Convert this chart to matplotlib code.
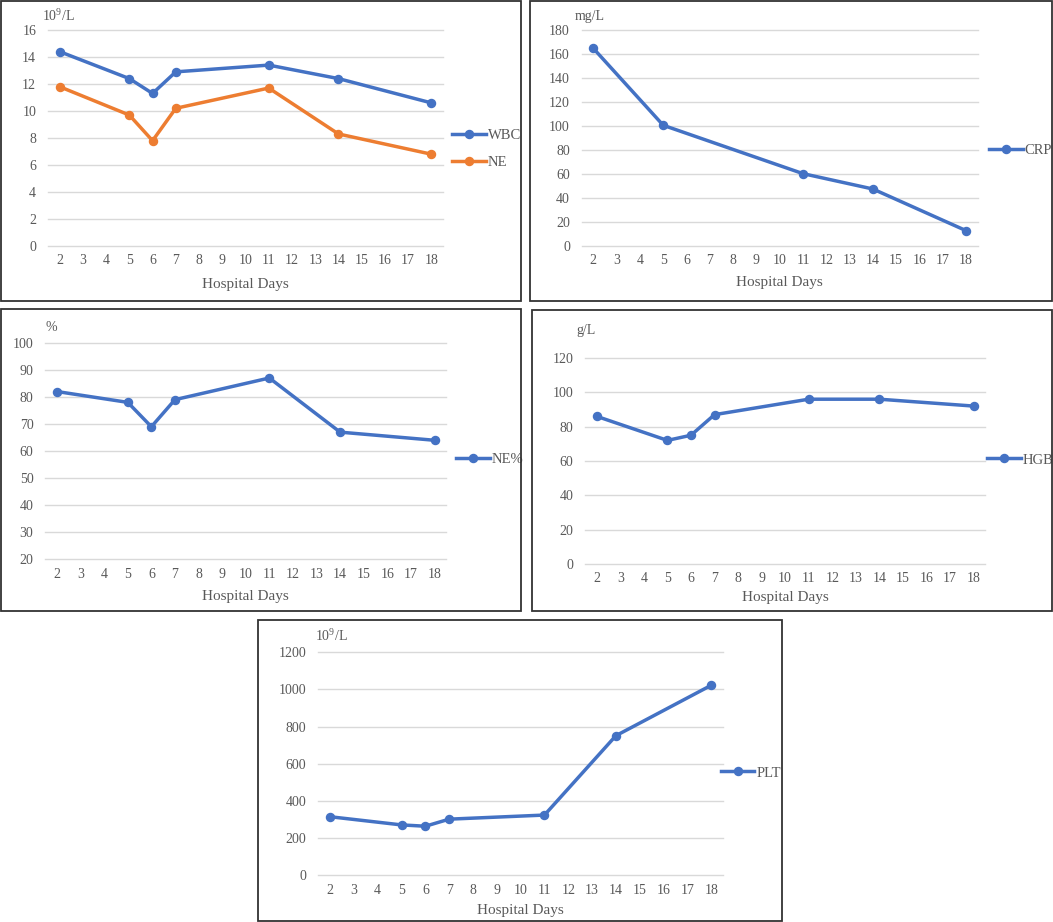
import matplotlib
matplotlib.use("Agg")
import matplotlib.pyplot as plt
from matplotlib.patches import Rectangle

plt.rcParams['font.family'] = ['Liberation Serif', 'DejaVu Serif']
plt.rcParams['mathtext.fontset'] = 'custom'
plt.rcParams['mathtext.rm'] = 'Liberation Serif'
plt.rcParams['mathtext.it'] = 'Liberation Serif:italic'

# ---- data ----
days_axis = list(range(2, 19))
days = [2, 5, 6, 7, 11, 14, 18]
wbc = [14.4, 12.4, 11.3, 12.9, 13.4, 12.4, 10.6]
ne = [11.8, 9.7, 7.8, 10.2, 11.7, 8.3, 6.8]
crp = [164.7, 100.6, 60.3, 47.5, 12.8]
crp_days = [2, 5, 11, 14, 18]
ne_pct = [82, 78, 69, 79, 87, 67, 64]
hgb = [86, 72, 75, 87, 96, 96, 92]
plt_vals = [315, 271, 264, 302, 324, 751, 1022]

BLUE = '#4472C4'
ORANGE = '#ED7D31'
TXT = '#595959'
GRID = '#D9D9D9'

W, H = 1053, 922
fig = plt.figure(figsize=(W / 100, H / 100), dpi=100)


def box(x0, y0, x1, y1):
    fig.patches.append(Rectangle((x0 / W, 1 - y1 / H), (x1 - x0) / W, (y1 - y0) / H,
                                 transform=fig.transFigure, fill=False,
                                 edgecolor='#333333', lw=1.3))


def make_ax(x0, x1, ytop, ybot, ylim, yticks):
    ax = fig.add_axes([x0 / W, 1 - ybot / H, (x1 - x0) / W, (ybot - ytop) / H])
    ax.set_xlim(1.5, 18.5)
    ax.set_ylim(*ylim)
    ax.set_xticks(days_axis)
    ax.set_xticklabels([str(d) for d in days_axis])
    ax.set_yticks(yticks)
    ax.set_yticklabels([str(v) for v in yticks])
    for s in ax.spines.values():
        s.set_visible(False)
    ax.grid(axis='y', color=GRID, lw=1.0)
    for gl in ax.get_ygridlines():
        gl.set_clip_on(False)
    ax.set_axisbelow(True)
    ax.tick_params(axis='both', length=0, labelsize=10, labelcolor=TXT)
    ax.tick_params(axis='x', pad=6)
    ax.tick_params(axis='y', pad=8.5)
    ax.set_facecolor('none')
    return ax


def xlabel(ax, y):
    bb = ax.get_position()
    fig.text((bb.x0 + bb.x1) / 2, 1 - y / H, 'Hospital Days', ha='center', va='center',
             fontsize=11, color=TXT)


def unit(x, y, s):
    fig.text(x / W, 1 - y / H, s, ha='left', va='center', fontsize=10, color=TXT)


def legend(ax, x, y, **kw):
    ax.legend(loc='center left', bbox_to_anchor=(x / W, 1 - y / H),
              bbox_transform=fig.transFigure, frameon=False, borderpad=0,
              borderaxespad=0, handlelength=2.3, handletextpad=0.15,
              fontsize=10.5, labelcolor=TXT, **kw)


line_kw = dict(lw=2.5, marker='o', markersize=5.8)

# Panel 1: WBC / NE
box(1, 1, 521, 301)
ax1 = make_ax(48, 443, 30, 246, (0, 16), list(range(0, 17, 2)))
ax1.plot(days, wbc, color=BLUE, label='WBC', **line_kw)
ax1.plot(days, ne, color=ORANGE, label='NE', **line_kw)
legend(ax1, 452, 148.7, labelspacing=0.95)
xlabel(ax1, 284.5)
unit(41.7, 15.7, '10$^{\\mathrm{9}}$/L')

# Panel 2: CRP
box(530, 1, 1052, 301)
ax2 = make_ax(581.7, 977.7, 30, 246, (0, 180), list(range(0, 181, 20)))
ax2.plot(crp_days, crp, color=BLUE, label='CRP', **line_kw)
legend(ax2, 989, 150.3)
xlabel(ax2, 282.7)
unit(575, 16.7, 'mg/L')

# Panel 3: NE%
box(0.7, 309, 520.6, 611)
ax3 = make_ax(45.2, 446.3, 342.8, 559.4, (20, 100), list(range(20, 101, 10)))
ax3.plot(days, ne_pct, color=BLUE, label='NE%', **line_kw)
legend(ax3, 456, 459.3)
xlabel(ax3, 596.3)
unit(45.2, 327.8, '%')

# Panel 4: HGB
box(531.5, 310, 1051.7, 610.5)
ax4 = make_ax(585, 985.3, 358, 564, (0, 120), list(range(0, 121, 20)))
ax4.plot(days, hgb, color=BLUE, label='HGB', **line_kw)
legend(ax4, 987, 460)
xlabel(ax4, 597.7)
unit(576, 330, 'g/L')

# Panel 5: PLT
box(258, 620, 782, 921)
ax5 = make_ax(318.2, 723.1, 652.2, 875.3, (0, 1200), list(range(0, 1201, 200)))
ax5.plot(days, plt_vals, color=BLUE, label='PLT', **line_kw)
legend(ax5, 720.8, 772.9)
xlabel(ax5, 910.8)
unit(315.2, 636, '10$^{\\mathrm{9}}$/L')

fig.savefig('out.png', dpi=100)
